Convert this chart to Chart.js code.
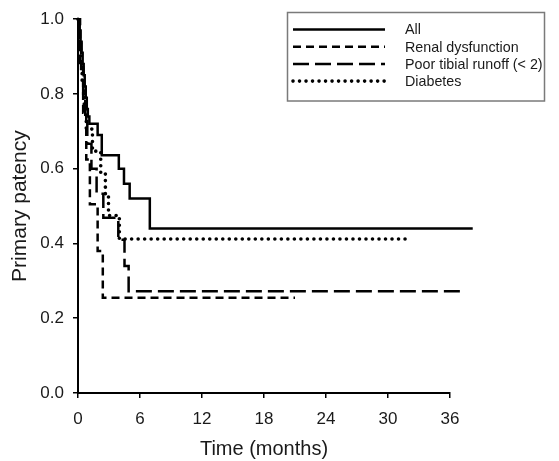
<!DOCTYPE html>
<html>
<head>
<meta charset="utf-8">
<script src="https://cdn.jsdelivr.net/npm/chart.js@4.4.1/dist/chart.umd.min.js"></script>
<style>
  html, body { margin: 0; padding: 0; background: #fff; }
  #wrap { width: 559px; height: 461px; }
</style>
</head>
<body>
<div id="wrap"><canvas id="km" width="559" height="461"></canvas></div>
<script>
// Kaplan-Meier curves, values (time in months, primary patency)
const allTimes = [0, 0.15, 0.25, 0.35, 0.45, 0.55, 0.65, 0.75, 0.85, 0.95, 1.1, 1.9, 2.3, 3.95, 4.45, 5.0, 6.95, 38.2];
const allPatency = [1.0, 0.97, 0.94, 0.91, 0.88, 0.85, 0.82, 0.79, 0.76, 0.74, 0.72, 0.69, 0.636, 0.60, 0.56, 0.52, 0.44, 0.44];

const renalTimes = [0, 0.2, 0.5, 0.8, 1.15, 1.9, 2.4, 21];
const renalPatency = [1.0, 0.875, 0.75, 0.625, 0.505, 0.38, 0.255, 0.255];

const tibialTimes = [0, 0.15, 0.3, 0.5, 0.7, 0.9, 1.3, 1.8, 2.45, 3.9, 4.5, 4.9, 37.5];
const tibialPatency = [1.0, 0.933, 0.867, 0.8, 0.733, 0.667, 0.6, 0.533, 0.469, 0.41, 0.34, 0.272, 0.272];

const diabetesTimes = [0, 0.1, 0.25, 0.4, 0.6, 0.8, 1.4, 2.2, 2.65, 2.95, 4.0, 32.1];
const diabetesPatency = [1.0, 0.941, 0.882, 0.824, 0.765, 0.706, 0.647, 0.588, 0.529, 0.475, 0.412, 0.412];

const seriesNames = ['All', 'Renal dysfunction', 'Poor tibial runoff (< 2)', 'Diabetes'];
const xTicks = [0, 6, 12, 18, 24, 30, 36];
const yTicks = [0, 0.2, 0.4, 0.6, 0.8, 1.0];

const FONT = '"Liberation Sans", Arial, sans-serif';
const INK = '#1a1a1a';

const toPoints = (xs, ys) => xs.map((t, i) => ({ x: t, y: ys[i] }));

// boxed legend in the upper right, drawn from the dataset styles
const boxLegend = {
  id: 'boxLegend',
  afterDraw(chart) {
    const ctx = chart.ctx;
    ctx.save();
    ctx.strokeStyle = '#7a7a7a';
    ctx.lineWidth = 1.5;
    ctx.strokeRect(287.5, 12.5, 257, 88.5);
    chart.data.datasets.forEach((ds, i) => {
      const y = 29.5 + i * 17.2;
      ctx.setLineDash(ds.borderDash || []);
      ctx.lineCap = ds.borderCapStyle || 'butt';
      ctx.lineWidth = ds.borderWidth;
      ctx.strokeStyle = ds.borderColor;
      ctx.beginPath();
      ctx.moveTo(293, y);
      ctx.lineTo(385, y);
      ctx.stroke();
      ctx.setLineDash([]);
      ctx.fillStyle = INK;
      ctx.font = '14.3px ' + FONT;
      ctx.textBaseline = 'middle';
      ctx.textAlign = 'left';
      ctx.fillText(ds.label, 405, y + 1);
    });
    ctx.restore();
  }
};

const lineBase = {
  borderColor: '#000',
  borderWidth: 2.5,
  pointRadius: 0,
  stepped: 'before',
  fill: false,
  clip: false
};

new Chart(document.getElementById('km').getContext('2d'), {
  type: 'line',
  data: {
    datasets: [
      { ...lineBase, label: seriesNames[0], data: toPoints(allTimes, allPatency) },
      { ...lineBase, label: seriesNames[1], data: toPoints(renalTimes, renalPatency), borderDash: [8, 5] },
      { ...lineBase, label: seriesNames[2], data: toPoints(tibialTimes, tibialPatency), borderDash: [16, 6] },
      { ...lineBase, label: seriesNames[3], data: toPoints(diabetesTimes, diabetesPatency),
        borderDash: [0.01, 6.5], borderCapStyle: 'round', borderWidth: 3.6 }
    ]
  },
  options: {
    responsive: false,
    animation: false,
    devicePixelRatio: 1,
    layout: { padding: { top: 19, right: 109, left: 0, bottom: 0 } },
    plugins: {
      legend: { display: false },
      tooltip: { enabled: false }
    },
    scales: {
      x: {
        type: 'linear',
        min: xTicks[0],
        max: xTicks[xTicks.length - 1],
        afterBuildTicks: scale => { scale.ticks = xTicks.map(v => ({ value: v })); },
        afterFit: scale => { scale.height = 68; },
        ticks: { color: INK, font: { family: FONT, size: 17 }, padding: 11, maxRotation: 0 },
        grid: { drawOnChartArea: false, drawTicks: true, tickLength: 5, color: '#000', lineWidth: 1.5 },
        border: { color: '#000', width: 2 },
        title: { display: true, text: 'Time (months)', color: INK,
                 font: { family: FONT, size: 20 }, padding: { top: 0, bottom: 0 } }
      },
      y: {
        min: yTicks[0],
        max: yTicks[yTicks.length - 1],
        afterBuildTicks: scale => { scale.ticks = yTicks.map(v => ({ value: v })); },
        afterFit: scale => { scale.width = 78; },
        ticks: { color: INK, font: { family: FONT, size: 17 }, padding: 9,
                 callback: v => Number(v).toFixed(1) },
        grid: { drawOnChartArea: false, drawTicks: true, tickLength: 5, color: '#000', lineWidth: 1.5 },
        border: { color: '#000', width: 2 },
        title: { display: true, text: 'Primary patency', color: INK,
                 font: { family: FONT, size: 21 }, padding: { top: 8, bottom: 0 } }
      }
    }
  },
  plugins: [boxLegend]
});
</script>
</body>
</html>
